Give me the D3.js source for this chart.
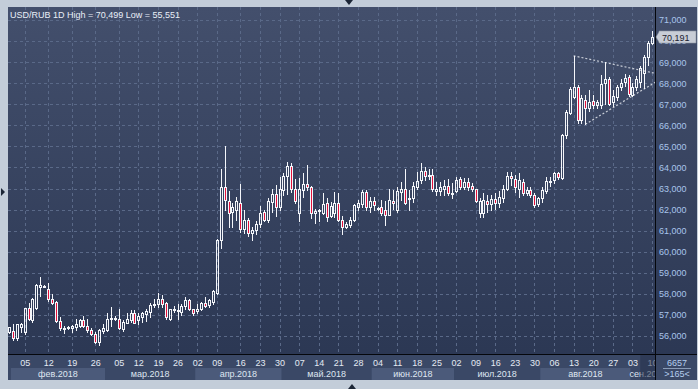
<!DOCTYPE html>
<html>
<head>
<meta charset="utf-8">
<script src="https://cdn.jsdelivr.net/npm/d3@7"></script>
<style>
  body { margin: 0; background: #c3cdd9; }
  svg { display: block; font-family: "Liberation Sans", Arial, sans-serif; }
</style>
</head>
<body>
<div id="wrapper"></div>
<script>
// USD/RUB daily bars, Feb - Sep 2018
var opens = [56.18,56.23,55.89,56.45,56.19,57.31,56.78,57.31,58.33,58.38,58.25,57.78,57.62,56.72,56.40,56.41,56.40,56.44,56.48,56.78,
  56.46,56.30,56.11,55.72,56.24,56.30,56.80,56.82,56.83,56.35,56.62,56.75,57.07,56.75,56.91,57.03,57.14,57.49,57.54,57.78,
  57.59,56.83,57.28,57.22,57.14,57.41,57.73,57.26,57.19,57.30,57.59,57.46,57.62,58.05,60.55,63.05,62.42,61.89,62.00,62.29,
  61.10,61.50,60.87,61.02,61.31,61.89,61.50,62.37,62.73,62.13,62.92,63.59,64.06,62.96,61.82,62.92,63.21,63.05,61.85,61.94,
  61.82,62.29,61.69,61.82,62.32,61.53,61.18,61.26,61.50,62.13,62.26,62.84,62.10,62.42,62.05,62.13,62.00,61.74,62.42,61.97,
  62.84,63.00,62.50,62.53,63.05,63.40,63.84,63.59,63.64,62.89,62.89,62.99,63.11,62.78,62.89,63.43,63.08,63.32,63.11,62.96,
  61.82,61.82,62.42,62.26,62.48,62.32,62.53,63.00,63.59,63.43,62.96,63.32,62.77,62.92,62.69,62.26,62.53,62.89,63.30,63.40,
  63.72,63.48,65.54,66.60,67.36,67.80,66.25,67.20,66.80,67.17,66.96,66.98,68.02,68.18,67.10,67.33,67.80,68.07,68.28,67.44,
  67.80,68.07,68.50,69.26,69.89];
var highs = [56.45,56.56,56.56,56.60,57.32,57.55,57.80,58.45,58.78,58.42,58.52,58.00,57.65,56.88,56.46,56.46,56.51,56.83,56.83,56.95,
  56.83,56.40,56.18,56.35,56.56,57.08,57.38,56.95,57.30,56.75,57.07,57.22,57.22,57.07,57.14,57.30,57.57,57.78,58.02,57.94,
  57.62,57.30,57.41,57.54,57.54,57.86,57.78,57.30,57.54,57.62,57.86,57.78,58.18,60.60,63.91,65.01,62.90,62.32,62.61,63.21,
  62.00,61.58,61.18,61.47,62.16,61.97,62.53,63.00,63.16,63.56,63.75,64.24,64.19,63.43,63.48,63.72,64.11,63.11,62.05,62.05,
  62.77,62.53,62.37,62.84,62.77,61.69,61.42,61.66,62.26,62.45,62.92,62.92,62.61,62.61,62.13,62.45,62.42,62.96,62.92,63.05,
  63.32,63.91,62.92,63.30,63.80,64.19,64.03,63.95,63.95,63.32,63.32,63.40,63.43,63.24,63.56,63.56,63.48,63.48,63.24,63.00,
  62.53,62.77,62.69,62.69,62.77,62.89,63.16,63.80,63.80,63.64,63.72,63.43,63.08,63.08,62.77,62.61,63.08,63.56,63.56,63.80,
  63.80,65.60,66.72,67.83,69.30,67.90,67.43,67.43,67.68,67.43,67.20,68.39,69.02,68.30,67.70,67.90,68.20,68.45,68.40,68.00,
  68.35,68.80,69.35,70.00,70.499];
var lows = [56.15,55.83,55.83,56.18,56.11,56.75,56.67,57.30,57.89,58.33,57.67,57.54,56.68,56.30,56.14,56.33,56.21,56.30,56.44,56.44,
  56.18,56.03,55.67,55.551,56.16,56.25,56.48,56.75,56.35,56.24,56.60,56.67,56.60,56.55,56.67,56.70,56.91,57.38,57.38,57.38,
  56.83,56.75,57.14,56.83,56.99,57.30,57.22,56.99,57.07,57.22,57.38,57.38,57.54,58.00,60.20,62.00,61.18,61.18,61.50,60.94,
  60.87,60.74,60.55,60.83,61.18,61.47,61.42,61.89,61.69,61.97,62.69,62.73,62.84,62.32,61.47,62.61,62.92,61.58,61.37,61.47,
  61.78,61.47,61.63,61.66,61.47,60.86,61.15,61.18,61.47,61.97,62.13,61.97,61.89,61.97,62.00,61.74,61.26,61.74,62.05,61.89,
  62.45,62.26,61.97,62.37,63.00,63.24,63.40,63.43,62.90,62.69,62.69,62.69,62.69,62.53,62.84,63.00,63.00,62.92,62.89,62.37,
  61.63,61.63,61.89,62.00,62.05,62.13,62.37,62.92,63.16,62.84,62.61,62.69,62.69,62.61,62.13,62.16,62.37,62.77,63.11,63.27,
  63.45,63.45,65.42,66.56,67.28,66.09,66.09,66.04,66.69,66.83,66.83,66.83,67.00,66.96,66.90,67.20,67.70,67.85,67.40,67.40,
  67.70,67.80,67.76,68.86,69.85];
var closes = [56.42,55.89,56.56,56.56,57.31,56.83,57.78,58.44,58.44,58.36,57.78,57.59,56.70,56.40,56.38,56.42,56.48,56.56,56.78,56.48,
  56.27,56.11,55.72,56.27,56.40,56.83,56.85,56.86,56.40,56.67,56.83,57.07,56.62,56.94,57.10,57.19,57.46,57.51,57.78,57.54,
  56.88,57.26,57.30,57.24,57.41,57.73,57.26,57.10,57.30,57.59,57.41,57.73,58.13,60.55,63.05,62.45,61.85,62.10,62.42,61.10,
  61.50,60.87,61.02,61.34,61.85,61.53,62.42,62.73,62.13,62.96,63.59,64.06,62.96,62.42,62.96,63.21,63.05,61.82,61.94,61.96,
  62.26,61.66,62.16,62.32,61.53,61.18,61.31,61.53,62.21,62.29,62.84,62.10,62.42,62.21,62.09,61.82,61.74,62.45,62.30,62.89,
  63.00,62.29,62.55,63.11,63.37,63.84,63.59,63.64,62.96,63.00,63.05,63.11,62.77,62.81,63.40,63.08,63.32,63.05,62.96,62.42,
  62.42,62.45,62.26,62.48,62.32,62.61,63.00,63.59,63.48,63.05,63.40,62.80,62.92,62.69,62.21,62.53,62.92,63.37,63.34,63.72,
  63.53,65.54,66.64,67.71,67.83,66.25,67.28,66.80,67.12,66.96,67.12,67.97,68.18,67.01,67.40,67.83,68.02,68.23,67.48,67.80,
  68.18,68.70,69.26,69.89,70.191];

// weekly date ticks (bar index) and their labels
var weekIdx = [4,10,16,22,28,33,38,43,48,53,59,64,69,74,79,84,89,94,99,104,109,114,119,124,129,134,139,144,149,154,159,164];
var weekLabels = ["05","12","19","26","05","12","19","26","02","09","16","23","30","07","14","21","28","04","11","18","25",
  "02","09","16","23","30","06","13","20","27","03","10"];

// first bar of each month
var monthStart = [1,25,48,70,93,114,136,159];
var monthLabels = ["фев.2018","мар.2018","апр.2018","май.2018","июн.2018","июл.2018","авг.2018","сен.2018"];

// price levels on the right axis
var priceTicks = d3.range(56, 72);

// hand drawn triangle (bar index, price)
var upperLine = [[144, 69.30], [164.8, 68.47]];
var lowerLine = [[147, 66.05], [164.8, 68.04]];

var W = 698, H = 389;
var plot = { left: 8, right: 655, top: 7, bottom: 354 };

var loc = d3.formatLocale({ decimal: ",", thousands: "\u00a0", grouping: [3], currency: ["", ""] });
var fmt = loc.format(".3f");

var svg = d3.select("#wrapper").append("svg")
  .attr("width", W)
  .attr("height", H);

var defs = svg.append("defs");
var grad = defs.append("linearGradient")
  .attr("id", "bg")
  .attr("x1", 0).attr("y1", 0).attr("x2", 0).attr("y2", 1);
grad.append("stop").attr("offset", "0%").attr("stop-color", "#434f6c");
grad.append("stop").attr("offset", "100%").attr("stop-color", "#2a3652");

defs.append("clipPath").attr("id", "plotClip")
  .append("rect")
  .attr("x", plot.left).attr("y", plot.top)
  .attr("width", plot.right - plot.left).attr("height", plot.bottom - plot.top);
defs.append("clipPath").attr("id", "dateClip")
  .append("rect")
  .attr("x", plot.left).attr("y", plot.bottom)
  .attr("width", plot.right - plot.left).attr("height", 26);

// frame
svg.append("rect").attr("width", W).attr("height", H).attr("fill", "#c3cdd9");
svg.append("rect")
  .attr("x", plot.left).attr("y", plot.top)
  .attr("width", 689).attr("height", 373)
  .attr("fill", "url(#bg)");
svg.append("rect")
  .attr("x", plot.left).attr("y", plot.bottom)
  .attr("width", 689).attr("height", 26)
  .attr("fill", "#3a4866");

// little arrows on the frame
svg.append("path").attr("d", "M345,0 L353,0 L349,5 Z").attr("fill", "#1c2636");
svg.append("path").attr("d", "M348,389 L356,389 L352,384 Z").attr("fill", "#1c2636");
svg.append("path").attr("d", "M1,188 L1,196 L5,192 Z").attr("fill", "#1c2636");

// scales
var x = d3.scaleLinear()
  .domain([-0.5, opens.length - 0.5])
  .range([plot.left - 1, plot.right - 1]);
var y = d3.scaleLinear()
  .domain([56, 71])
  .range([336, 20]);

// month bands on the date axis
var monthEnds = monthStart.slice(1).concat([opens.length + 3]);
var months = svg.append("g").attr("clip-path", "url(#dateClip)");
monthLabels.forEach(function (m, i) {
  var x0 = x(monthStart[i] - 0.5), x1 = x(monthEnds[i] - 0.5);
  if (i % 2 === 0) {
    months.append("rect")
      .attr("x", x0).attr("y", 368)
      .attr("width", x1 - x0).attr("height", 12)
      .attr("fill", "#4b5a7a");
  }
  months.append("text")
    .attr("x", (x0 + x1) / 2)
    .attr("y", 377)
    .attr("fill", "#dfe6f1")
    .style("font-size", "9px")
    .style("text-anchor", "middle")
    .text(m);
});

// grid
var grid = svg.append("g").attr("clip-path", "url(#plotClip)");
grid.selectAll(".hgrid")
  .data(priceTicks)
  .join("line")
  .attr("x1", plot.left).attr("x2", plot.right)
  .attr("y1", d => Math.round(y(d)) + 0.5).attr("y2", d => Math.round(y(d)) + 0.5)
  .attr("stroke", "#5a6988")
  .attr("stroke-dasharray", "3,3");
grid.selectAll(".vgrid")
  .data(weekIdx)
  .join("line")
  .attr("x1", d => Math.round(x(d)) + 0.5).attr("x2", d => Math.round(x(d)) + 0.5)
  .attr("y1", plot.top).attr("y2", plot.bottom)
  .attr("stroke", "#5a6988")
  .attr("stroke-dasharray", "3,3");

// triangle annotation
var line = d3.line().x(d => x(d[0])).y(d => y(d[1]));
[upperLine, lowerLine].forEach(function (pts) {
  grid.append("path")
    .attr("d", line(pts))
    .attr("fill", "none")
    .attr("stroke", "#c9ced8")
    .attr("stroke-width", 1.2)
    .attr("stroke-dasharray", "2,2");
});

// candles
var bars = opens.map((o, i) => ({ i: i, o: o, h: highs[i], l: lows[i], c: closes[i] }));
var candles = grid.append("g")
  .selectAll("g")
  .data(bars)
  .join("g")
  .each(function (d) {
    var g = d3.select(this);
    var cx = Math.round(x(d.i));
    var top = Math.round(y(Math.max(d.o, d.c)));
    var bot = Math.round(y(Math.min(d.o, d.c)));
    var hy = Math.round(y(d.h)), ly = Math.round(y(d.l));
    var bear = d.c < d.o;
    if (bot - top < 2) {
      g.append("line").attr("x1", cx + 0.5).attr("x2", cx + 0.5)
        .attr("y1", hy).attr("y2", ly + 1).attr("stroke", "#f4f6fa");
      g.append("rect").attr("x", cx - 1).attr("y", top)
        .attr("width", 3).attr("height", 2).attr("fill", "#f4f6fa");
      return;
    }
    g.append("line").attr("x1", cx + 0.5).attr("x2", cx + 0.5)
      .attr("y1", hy).attr("y2", top).attr("stroke", "#f4f6fa");
    g.append("line").attr("x1", cx + 0.5).attr("x2", cx + 0.5)
      .attr("y1", bot + 1).attr("y2", ly + 1).attr("stroke", "#f4f6fa");
    g.append("rect")
      .attr("x", cx - 0.5).attr("y", top + 0.5)
      .attr("width", 2).attr("height", bot - top)
      .attr("fill", bear ? "#e3103a" : "none")
      .attr("stroke", "#f4f6fa");
  });

// date axis
var dateAxis = svg.append("g")
  .attr("clip-path", "url(#dateClip)")
  .append("g")
  .attr("transform", "translate(0,366)")
  .call(d3.axisBottom(x)
    .tickValues(weekIdx)
    .tickSize(0)
    .tickFormat((d, i) => weekLabels[i]));
dateAxis.select(".domain").remove();
dateAxis.selectAll("text")
  .attr("y", 0).attr("dy", null)
  .attr("fill", "#e4eaf3")
  .style("font-size", "9px")
  .style("font-family", "'Liberation Sans', Arial, sans-serif");

// current bar highlight on the date axis
svg.append("rect")
  .attr("x", x(opens.length - 4)).attr("y", plot.bottom + 1)
  .attr("width", plot.right - x(opens.length - 4)).attr("height", 25)
  .attr("fill", "#26324b")
  .attr("opacity", 0.55);

// separators
svg.append("line")
  .attr("x1", plot.right + 0.5).attr("x2", plot.right + 0.5)
  .attr("y1", plot.top).attr("y2", 380)
  .attr("stroke", "#05070c");
svg.append("line")
  .attr("x1", plot.left).attr("x2", 697)
  .attr("y1", plot.bottom + 0.5).attr("y2", plot.bottom + 0.5)
  .attr("stroke", "#05070c");

// price axis
var priceAxis = svg.append("g")
  .attr("transform", "translate(" + (plot.right + 1) + ",0)")
  .call(d3.axisRight(y)
    .tickValues(priceTicks)
    .tickSize(0)
    .tickPadding(3)
    .tickFormat(fmt));
priceAxis.select(".domain").remove();
priceAxis.selectAll("text")
  .attr("fill", "#a9c5ec")
  .style("font-size", "9px")
  .style("font-family", "'Liberation Sans', Arial, sans-serif");

// last price tag
var last = closes[closes.length - 1];
var ty = Math.round(y(last));
svg.append("path")
  .attr("d", "M" + (plot.right + 1) + "," + ty + " L659," + (ty - 5) + " L659," + (ty - 6) +
    " L696," + (ty - 6) + " L696," + (ty + 6) + " L659," + (ty + 6) + " L659," + (ty + 5) + " Z")
  .attr("fill", "#c8cdd6")
  .attr("stroke", "#8d95a3")
  .attr("stroke-width", 0.6);
svg.append("text")
  .attr("x", 662).attr("y", ty + 3.5)
  .attr("fill", "#1c2230")
  .style("font-size", "9px")
  .text(fmt(last));

// corner box
svg.append("text")
  .attr("x", 677).attr("y", 365.5)
  .attr("fill", "#b4cdef")
  .style("font-size", "9px")
  .style("text-anchor", "middle")
  .text("6657");
svg.append("line")
  .attr("x1", 663).attr("x2", 691)
  .attr("y1", 368.5).attr("y2", 368.5)
  .attr("stroke", "#8a9cb8");
svg.append("text")
  .attr("x", 677).attr("y", 377)
  .attr("fill", "#b4cdef")
  .style("font-size", "9px")
  .style("text-anchor", "middle")
  .text(">" + opens.length + "<");

// title
svg.append("text")
  .attr("x", 10).attr("y", 18)
  .attr("fill", "#e9eef7")
  .style("font-size", "9px")
  .text("USD/RUB 1D High = " + fmt(d3.max(highs)) + " Low = " + fmt(d3.min(lows)));
</script>
</body>
</html>
